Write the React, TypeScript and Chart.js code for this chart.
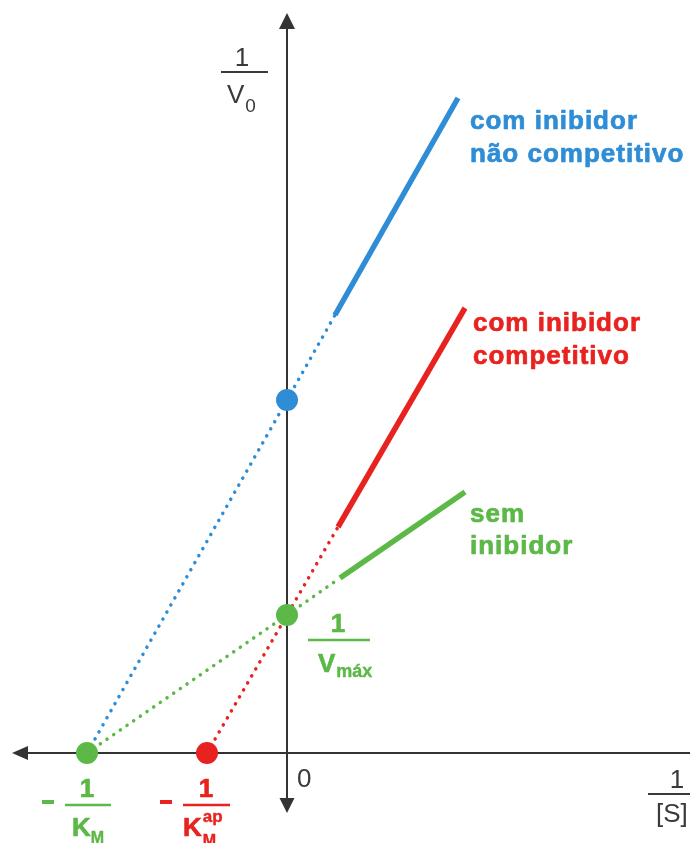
import React, { useEffect, useRef } from "react";
import { Chart, registerables } from "chart.js";

Chart.register(...registerables);

// Lineweaver-Burk plot values (x = 1/[S], y = 1/V0)
const greenDotted = [
  { x: -2.0, y: 0 },
  { x: 0, y: 1.38 },
  { x: 0.53, y: 1.75 },
];
const greenSolid = [
  { x: 0.53, y: 1.75 },
  { x: 1.78, y: 2.61 },
];
const redDotted = [
  { x: -0.8, y: 0 },
  { x: 0, y: 1.38 },
  { x: 0.51, y: 2.26 },
];
const redSolid = [
  { x: 0.51, y: 2.26 },
  { x: 1.78, y: 4.45 },
];
const blueDotted = [
  { x: -2.0, y: 0 },
  { x: 0, y: 3.53 },
  { x: 0.48, y: 4.38 },
];
const blueSolid = [
  { x: 0.48, y: 4.38 },
  { x: 1.71, y: 6.55 },
];
const greenMarkers = [
  { x: -2.0, y: 0 },
  { x: 0, y: 1.38 },
];
const redMarkers = [{ x: -0.8, y: 0 }];
const blueMarkers = [{ x: 0, y: 3.53 }];

const blueLabel = ["com inibidor", "não competitivo"];
const redLabel = ["com inibidor", "competitivo"];
const greenLabel = ["sem", "inibidor"];

const X_MIN = -2.87;
const X_MAX = 4.03;
const Y_MIN = -0.9;
const Y_MAX = 7.53;

const BLUE = "#2f8dd6";
const RED = "#e8231f";
const GREEN = "#5cb847";
const AXIS = "#333333";
const TXT = "#3a3a3a";
const FAM = 'Arial, "Liberation Sans", sans-serif';

const dotted = (data: any, color: string) => ({
  type: "line" as const,
  data,
  borderColor: color,
  borderWidth: 3.5,
  borderDash: [0.1, 8],
  borderCapStyle: "round" as const,
  pointRadius: 0,
  fill: false,
  tension: 0,
});
const solid = (data: any, color: string) => ({
  type: "line" as const,
  data,
  borderColor: color,
  borderWidth: 5.5,
  borderCapStyle: "butt" as const,
  pointRadius: 0,
  fill: false,
  tension: 0,
});
const markers = (data: any, color: string) => ({
  type: "scatter" as const,
  data,
  backgroundColor: color,
  borderColor: color,
  borderWidth: 0,
  pointRadius: 11,
  pointHoverRadius: 11,
});

const axesPlugin = {
  id: "axesPlugin",
  beforeDatasetsDraw(chart: any) {
    const ctx = chart.ctx;
    const xs = chart.scales.x;
    const ys = chart.scales.y;
    const x0 = xs.getPixelForValue(0);
    const y0 = ys.getPixelForValue(0);
    const area = chart.chartArea;
    ctx.save();
    ctx.strokeStyle = AXIS;
    ctx.fillStyle = AXIS;
    ctx.lineWidth = 2;
    // x axis
    ctx.beginPath();
    ctx.moveTo(20, y0);
    ctx.lineTo(area.right, y0);
    ctx.stroke();
    ctx.beginPath();
    ctx.moveTo(12, y0);
    ctx.lineTo(28, y0 - 7);
    ctx.lineTo(28, y0 + 7);
    ctx.closePath();
    ctx.fill();
    // y axis
    ctx.beginPath();
    ctx.moveTo(x0, 24);
    ctx.lineTo(x0, 805);
    ctx.stroke();
    ctx.beginPath();
    ctx.moveTo(x0, 13);
    ctx.lineTo(x0 - 8, 29);
    ctx.lineTo(x0 + 8, 29);
    ctx.closePath();
    ctx.fill();
    ctx.beginPath();
    ctx.moveTo(x0, 813);
    ctx.lineTo(x0 - 7.5, 798);
    ctx.lineTo(x0 + 7.5, 798);
    ctx.closePath();
    ctx.fill();
    ctx.restore();
  },
  afterDraw(chart: any) {
    const ctx = chart.ctx;
    const xs = chart.scales.x;
    const x0 = xs.getPixelForValue(0);
    const xKm = xs.getPixelForValue(greenMarkers[0].x);
    const xKap = xs.getPixelForValue(redMarkers[0].x);
    ctx.save();
    ctx.textBaseline = "alphabetic";
    ctx.lineJoin = "round";
    const t = (
      s: string,
      x: number,
      y: number,
      font: string,
      color: string,
      align: CanvasTextAlign = "left",
      heavy = 0
    ) => {
      ctx.font = font;
      ctx.fillStyle = color;
      ctx.textAlign = align;
      ctx.fillText(s, x, y);
      if (heavy > 0) {
        ctx.strokeStyle = color;
        ctx.lineWidth = heavy;
        ctx.strokeText(s, x, y);
      }
      return ctx.measureText(s).width;
    };
    const bar = (x1: number, x2: number, y: number, color: string, w = 2) => {
      ctx.fillStyle = color;
      ctx.fillRect(x1, y - w / 2, x2 - x1, w);
    };
    const N26 = `26px ${FAM}`;
    const B26 = `bold 26px ${FAM}`;
    const H = 0.7;

    // 1 / V0
    t("1", x0 - 45, 66, N26, TXT, "center");
    bar(x0 - 66, x0 - 19, 72, TXT, 2);
    let w = t("V", x0 - 60, 103, N26, TXT);
    t("0", x0 - 60 + w + 1, 112, `19px ${FAM}`, TXT);

    // 0
    t("0", x0 + 10, 787, N26, TXT);

    // 1 / [S]
    t("1", 677, 788, N26, TXT, "center");
    bar(648, 690, 794, TXT, 2);
    t("[S]", 656, 822, N26, TXT);

    // -1/KM (green)
    bar(xKm - 45, xKm - 33, 802, GREEN, 4);
    t("1", xKm, 797, B26, GREEN, "center", H);
    bar(xKm - 22, xKm + 24, 805, GREEN, 2.5);
    w = t("K", xKm - 15, 836, B26, GREEN, "left", H);
    t("M", xKm - 15 + w, 843, `bold 16px ${FAM}`, GREEN, "left", 0.4);

    // -1/Kap (red)
    bar(xKap - 47, xKap - 35, 802, RED, 4);
    t("1", xKap - 1, 797, B26, RED, "center", H);
    bar(xKap - 24, xKap + 23, 805, RED, 2.5);
    w = t("K", xKap - 24, 836, B26, RED, "left", H);
    t("ap", xKap - 24 + w + 1, 822, `bold 17px ${FAM}`, RED, "left", 0.4);
    t("M", xKap - 24 + w + 1, 846, `bold 16px ${FAM}`, RED, "left", 0.4);

    // 1/Vmax (green)
    t("1", x0 + 51, 632, B26, GREEN, "center", H);
    bar(x0 + 21, x0 + 83, 640, GREEN, 2.5);
    w = t("V", x0 + 31, 672, B26, GREEN, "left", H);
    t("máx", x0 + 31 + w + 1, 677, `bold 18px ${FAM}`, GREEN, "left", 0.4);

    // series labels
    (ctx as any).letterSpacing = "1px";
    t(blueLabel[0], 470, 129, B26, BLUE, "left", H);
    t(blueLabel[1], 470, 162, B26, BLUE, "left", H);
    t(redLabel[0], 473, 331, B26, RED, "left", H);
    t(redLabel[1], 473, 364, B26, RED, "left", H);
    t(greenLabel[0], 470, 522, B26, GREEN, "left", H);
    t(greenLabel[1], 470, 554, B26, GREEN, "left", H);
    (ctx as any).letterSpacing = "0px";
    ctx.restore();
  },
};

export default function App() {
  const ref = useRef<HTMLCanvasElement | null>(null);
  useEffect(() => {
    if (!ref.current) return;
    const chart = new Chart(ref.current, {
      type: "line",
      data: {
        datasets: [
          markers(blueMarkers, BLUE),
          markers(redMarkers, RED),
          markers(greenMarkers, GREEN),
          solid(blueSolid, BLUE),
          solid(redSolid, RED),
          solid(greenSolid, GREEN),
          dotted(blueDotted, BLUE),
          dotted(redDotted, RED),
          dotted(greenDotted, GREEN),
        ] as any,
      },
      options: {
        animation: false,
        responsive: false,
        devicePixelRatio: 1,
        layout: { padding: 0, autoPadding: false },
        plugins: {
          legend: { display: false },
          tooltip: { enabled: false },
          title: { display: false },
        },
        events: [],
        scales: {
          x: { type: "linear", min: X_MIN, max: X_MAX, display: false },
          y: { type: "linear", min: Y_MIN, max: Y_MAX, display: false },
        },
      },
      plugins: [axesPlugin],
    });
    return () => chart.destroy();
  }, []);
  return (
    <div style={{ position: "absolute", left: 0, top: 0, width: 690, height: 843, background: "#fff" }}>
      <canvas ref={ref} width={690} height={843} style={{ display: "block" }} />
    </div>
  );
}
